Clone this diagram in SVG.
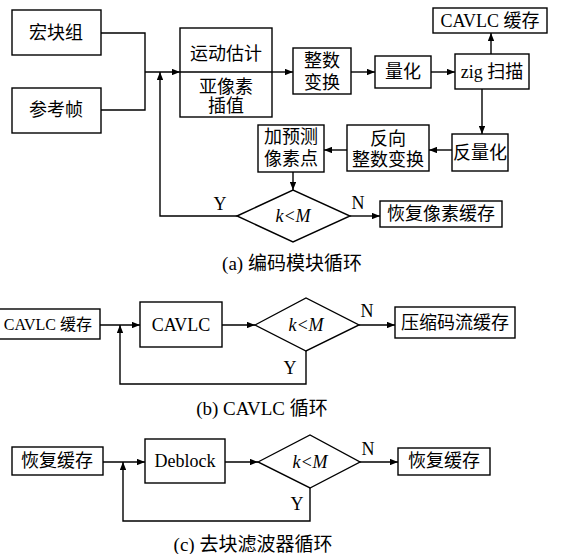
<svg xmlns="http://www.w3.org/2000/svg" width="585" height="554" viewBox="0 0 585 554">
<defs>
<style>
.b{fill:#fff;stroke:#000;stroke-width:1.4}
.c{fill:none;stroke:#000;stroke-width:1.4}
text{font-family:"Liberation Serif","Noto Sans CJK SC",serif;font-size:18px;fill:#000;text-anchor:middle;dominant-baseline:central}
.cap{font-size:19px}
.i{font-style:italic}
</style>
<marker id="a" viewBox="0 0 10 8" refX="10" refY="4" markerWidth="8" markerHeight="6.4" markerUnits="userSpaceOnUse" orient="auto"><path d="M0,0L10,4L0,8z" fill="#000"/></marker>
</defs>
<g id="connectors">
<path class="c" d="M101,33H145V110H101"/>
<path class="c" d="M145,72H180" marker-end="url(#a)"/>
<path class="c" d="M180,72H272"/>
<path class="c" d="M272,72H293" marker-end="url(#a)"/>
<path class="c" d="M351,72H375" marker-end="url(#a)"/>
<path class="c" d="M431,72H455" marker-end="url(#a)"/>
<path class="c" d="M491,54V33" marker-end="url(#a)"/>
<path class="c" d="M482,89V134" marker-end="url(#a)"/>
<path class="c" d="M452,150H429" marker-end="url(#a)"/>
<path class="c" d="M347,150H324" marker-end="url(#a)"/>
<path class="c" d="M293,172V190" marker-end="url(#a)"/>
<path class="c" d="M237,216H160V72" marker-end="url(#a)"/>
<path class="c" d="M350,216H380" marker-end="url(#a)"/>
<path class="c" d="M100,325H140" marker-end="url(#a)"/>
<path class="c" d="M222,325H255" marker-end="url(#a)"/>
<path class="c" d="M359,325H395" marker-end="url(#a)"/>
<path class="c" d="M306,351V384H120V325" marker-end="url(#a)"/>
<path class="c" d="M103,462H145" marker-end="url(#a)"/>
<path class="c" d="M225,462H258" marker-end="url(#a)"/>
<path class="c" d="M360,462H398" marker-end="url(#a)"/>
<path class="c" d="M310,488V521H123V462" marker-end="url(#a)"/>
</g>
<g id="n-hkz"><rect class="b" x="12" y="10" width="89" height="45"/><text x="56" y="33">宏块组</text></g>
<g id="n-ckz"><rect class="b" x="12" y="88" width="89" height="45"/><text x="56" y="110">参考帧</text></g>
<g id="n-me"><rect class="b" x="180" y="28" width="92" height="89"/><line class="c" x1="180" y1="72" x2="272" y2="72"/><text x="226" y="54">运动估计</text><text x="226" y="87">亚像素</text><text x="226" y="106">插值</text></g>
<g id="n-dct"><rect class="b" x="293" y="48" width="58" height="46"/><text x="322" y="61">整数</text><text x="322" y="83">变换</text></g>
<g id="n-q"><rect class="b" x="375" y="56" width="56" height="32"/><text x="403" y="72">量化</text></g>
<g id="n-zig"><rect class="b" x="455" y="54" width="74" height="35"/><text x="492" y="72">zig 扫描</text></g>
<g id="n-cbuf"><rect class="b" x="433" y="8" width="114" height="25"/><text x="490" y="21">CAVLC 缓存</text></g>
<g id="n-iq"><rect class="b" x="452" y="134" width="56" height="37"/><text x="480" y="153">反量化</text></g>
<g id="n-idct"><rect class="b" x="347" y="125" width="82" height="46"/><text x="388" y="139">反向</text><text x="388" y="160">整数变换</text></g>
<g id="n-pred"><rect class="b" x="258" y="125" width="66" height="47"/><text x="291" y="137">加预测</text><text x="291" y="159">像素点</text></g>
<g id="n-d1"><path class="b" d="M237,216L293,190L350,216L293,242Z"/><text class="i" x="293" y="216">k&lt;M</text></g>
<text x="220" y="204">Y</text><text x="358" y="203">N</text>
<g id="n-rbuf"><rect class="b" x="380" y="201" width="122" height="26"/><text x="441" y="214">恢复像素缓存</text></g>
<text class="cap" x="292" y="263">(a) 编码模块循环</text>
<g id="n-cbuf2"><rect class="b" x="-30" y="309" width="130" height="30"/><text x="92" y="324" style="text-anchor:end;font-size:16px">CAVLC 缓存</text></g>
<g id="n-cavlc"><rect class="b" x="140" y="302" width="82" height="45"/><text x="181" y="325">CAVLC</text></g>
<g id="n-d2"><path class="b" d="M255,325L306,298L359,325L306,351Z"/><text class="i" x="306" y="325">k&lt;M</text></g>
<text x="290" y="368">Y</text><text x="367" y="311">N</text>
<g id="n-ysbuf"><rect class="b" x="395" y="307" width="120" height="31"/><text x="455" y="323">压缩码流缓存</text></g>
<text class="cap" x="262" y="408">(b) CAVLC 循环</text>
<g id="n-hbuf"><rect class="b" x="12" y="447" width="91" height="28"/><text x="57" y="461">恢复缓存</text></g>
<g id="n-deb"><rect class="b" x="145" y="439" width="80" height="44"/><text x="185" y="461">Deblock</text></g>
<g id="n-d3"><path class="b" d="M258,462L310,435L360,462L310,488Z"/><text class="i" x="310" y="462">k&lt;M</text></g>
<text x="297" y="504">Y</text><text x="368" y="449">N</text>
<g id="n-hbuf2"><rect class="b" x="398" y="448" width="92" height="27"/><text x="444" y="461">恢复缓存</text></g>
<text class="cap" x="253" y="544">(c) 去块滤波器循环</text>
</svg>
